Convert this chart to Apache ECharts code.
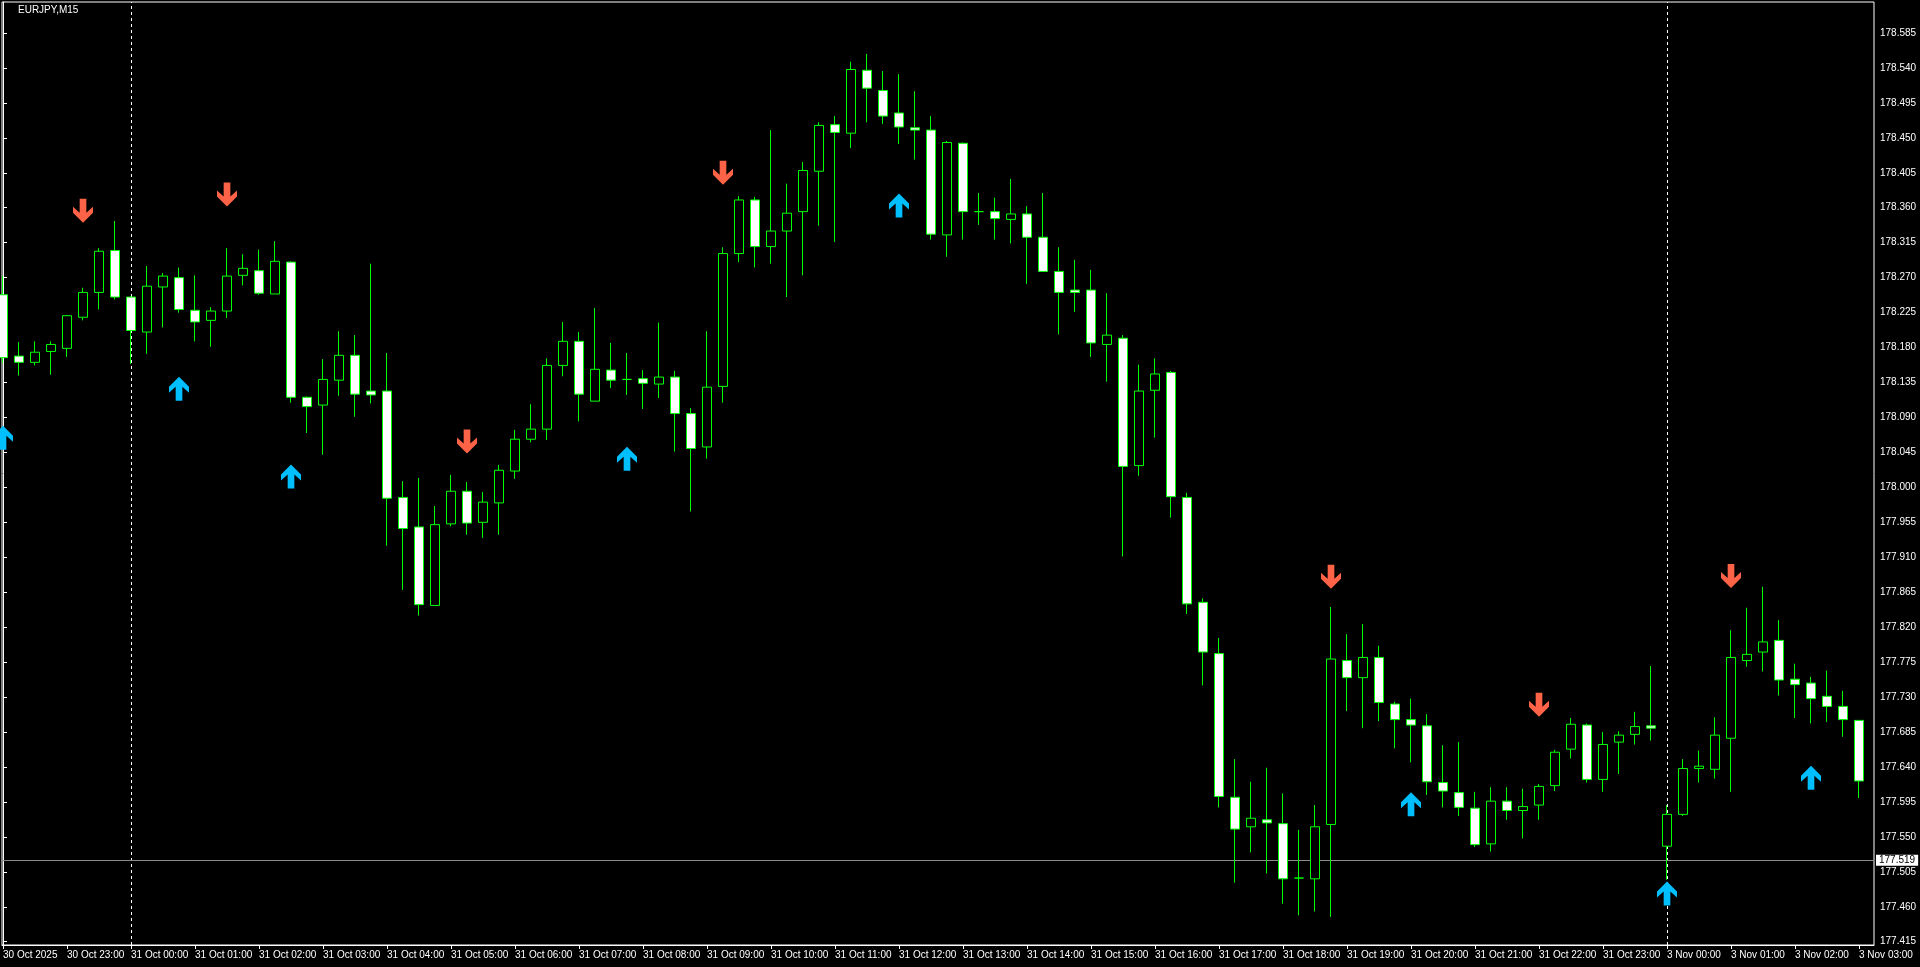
<!DOCTYPE html>
<html><head><meta charset="utf-8">
<script src="https://cdn.jsdelivr.net/npm/echarts@6/dist/echarts.min.js"></script>
<style>html,body{margin:0;padding:0;background:#000;overflow:hidden}#c{width:1920px;height:967px}</style>
</head><body><div id="c"></div>
<script>
const chartTitle = 'EURJPY,M15';
const xTickIndex = [0,4,8,12,16,20,24,28,32,36,40,44,48,52,56,60,64,68,72,76,80,84,88,92,96,100,104,108,112,116];
const xTickLabels = ['30 Oct 2025','30 Oct 23:00','31 Oct 00:00','31 Oct 01:00','31 Oct 02:00','31 Oct 03:00','31 Oct 04:00','31 Oct 05:00','31 Oct 06:00','31 Oct 07:00','31 Oct 08:00','31 Oct 09:00','31 Oct 10:00','31 Oct 11:00','31 Oct 12:00','31 Oct 13:00','31 Oct 14:00','31 Oct 15:00','31 Oct 16:00','31 Oct 17:00','31 Oct 18:00','31 Oct 19:00','31 Oct 20:00','31 Oct 21:00','31 Oct 22:00','31 Oct 23:00','3 Nov 00:00','3 Nov 01:00','3 Nov 02:00','3 Nov 03:00'];
const yTicks = [177.415,177.460,177.505,177.550,177.595,177.640,177.685,177.730,177.775,177.820,177.865,177.910,177.955,178.000,178.045,178.090,178.135,178.180,178.225,178.270,178.315,178.360,178.405,178.450,178.495,178.540,178.585];

const openP = [178.248,178.169,178.161,178.175,178.179,178.219,178.251,178.305,178.245,178.200,
178.258,178.270,178.228,178.215,178.227,178.273,178.279,178.249,178.290,178.116,
178.106,178.138,178.170,178.124,178.124,177.987,177.949,177.848,177.953,177.995,
177.955,177.980,178.021,178.062,178.075,178.157,178.188,178.111,178.151,178.139,
178.140,178.133,178.142,178.095,178.052,178.130,178.301,178.370,178.310,178.330,
178.355,178.407,178.467,178.456,178.537,178.511,178.482,178.463,178.460,178.325,
178.443,178.355,178.355,178.345,178.352,178.322,178.278,178.254,178.254,178.184,
178.192,178.028,178.125,178.148,177.987,177.852,177.786,177.601,177.563,177.572,
177.567,177.497,177.496,177.566,177.777,177.755,177.781,177.721,177.701,177.693,
177.620,177.607,177.587,177.541,177.596,177.584,177.591,177.616,177.663,177.694,
177.624,177.672,177.682,177.693,177.538,177.579,177.638,177.637,177.677,177.777,
177.788,177.803,177.753,177.748,177.731,177.718,177.700];
const closeP = [178.167,178.161,178.174,178.184,178.221,178.251,178.304,178.245,178.202,178.259,
178.272,178.229,178.213,178.227,178.272,178.282,178.250,178.291,178.116,178.104,
178.139,178.170,178.120,178.119,177.986,177.947,177.849,177.952,177.995,177.954,
177.981,178.022,178.062,178.075,178.157,178.188,178.120,178.152,178.138,178.139,
178.134,178.142,178.095,178.050,178.129,178.301,178.370,178.310,178.330,178.353,
178.408,178.466,178.457,178.538,178.514,178.478,178.464,178.460,178.326,178.444,
178.355,178.355,178.346,178.352,178.322,178.278,178.251,178.251,178.186,178.196,
178.027,178.124,178.146,177.988,177.850,177.788,177.602,177.560,177.574,177.568,
177.496,177.497,177.563,177.779,177.755,177.781,177.723,177.701,177.694,177.621,
177.609,177.588,177.540,177.596,177.584,177.589,177.615,177.659,177.695,177.624,
177.669,177.681,177.692,177.690,177.579,177.638,177.641,177.681,177.781,177.785,
177.801,177.752,177.746,177.728,177.718,177.701,177.622];
const lowP = [178.160,178.144,178.157,178.145,178.168,178.215,178.229,178.242,178.159,178.172,
178.206,178.225,178.188,178.181,178.218,178.260,178.248,178.249,178.109,178.070,
178.042,178.118,178.091,178.108,177.925,177.868,177.835,177.848,177.950,177.939,
177.935,177.939,178.011,178.058,178.061,178.143,178.085,178.111,178.128,178.119,
178.101,178.115,178.046,177.969,178.037,178.109,178.290,178.283,178.288,178.245,
178.273,178.337,178.316,178.437,178.470,178.468,178.442,178.422,178.319,178.297,
178.319,178.338,178.319,178.314,178.262,178.278,178.197,178.226,178.168,178.136,
177.911,178.015,178.064,177.961,177.837,177.745,177.588,177.491,177.530,177.503,
177.464,177.449,177.454,177.447,177.712,177.690,177.699,177.664,177.646,177.604,
177.588,177.577,177.537,177.531,177.572,177.548,177.572,177.609,177.651,177.620,
177.608,177.631,177.669,177.674,177.495,177.577,177.620,177.625,177.608,177.769,
177.763,177.732,177.703,177.696,177.698,177.679,177.600];
const highP = [178.272,178.187,178.188,178.188,178.222,178.257,178.308,178.343,178.246,178.285,
178.276,178.283,178.273,178.232,178.308,178.300,178.306,178.317,178.291,178.117,
178.165,178.201,178.196,178.288,178.173,178.008,178.012,177.976,178.016,178.007,
177.994,178.029,178.074,178.107,178.166,178.213,178.200,178.231,178.186,178.173,
178.151,178.212,178.150,178.102,178.201,178.309,178.375,178.374,178.460,178.391,
178.419,178.470,178.478,178.548,178.558,178.536,178.532,178.510,178.478,178.446,
178.444,178.379,178.373,178.397,178.362,178.379,178.309,178.293,178.280,178.250,
178.196,178.158,178.166,178.150,177.993,177.857,177.806,177.650,177.621,177.639,
177.606,177.559,177.591,177.846,177.811,177.824,177.796,177.724,177.728,177.708,
177.668,177.672,177.608,177.614,177.614,177.612,177.618,177.662,177.703,177.696,
177.685,177.686,177.711,177.770,177.591,177.650,177.661,177.704,177.816,177.845,
177.872,177.829,177.773,177.756,177.764,177.738,177.700];

const downArrows = [[5,178.356],[14,178.377],[29,178.059],[45,178.405],[83,177.885],[96,177.720],[108,177.886]];
const upArrows = [[0,178.064],[11,178.127],[18,178.014],[39,178.037],[56,178.363],[88,177.592],[104,177.477],[113,177.626]];
const priceLine = 177.519;
const separators = [8, 104];

const candles = openP.map((o, i) => [i, o, closeP[i], lowP[i], highP[i]]);

const chart = echarts.init(document.getElementById('c'), null, {renderer: 'canvas'});
const font = "'Liberation Sans', Arial, sans-serif";
chart.setOption({
  backgroundColor: '#000',
  animation: false,
  graphic: [{type: 'text', left: 18, top: 5, style: {text: chartTitle, fill: '#fff', font: '10px ' + font}}],
  grid: {left: 2, right: 46, top: 2, bottom: 22, show: true, backgroundColor: '#000', borderColor: '#fff', borderWidth: 1},
  xAxis: {
    type: 'value', min: -0.0625, max: 116.9375,
    axisLine: {show: true, lineStyle: {color: '#fff'}},
    axisTick: {show: true, length: 4, lineStyle: {color: '#fff'}, customValues: xTickIndex},
    axisLabel: {show: true, color: '#fff', fontSize: 10, fontFamily: font, align: 'left', margin: 5,
      customValues: xTickIndex,
      formatter: v => xTickLabels[xTickIndex.indexOf(Math.round(v))] || ''},
    splitLine: {show: false}
  },
  yAxis: {
    type: 'value', position: 'right', min: 177.4108, max: 178.6249, scale: true,
    axisLine: {show: true, lineStyle: {color: '#fff'}},
    axisTick: {show: true, length: 4, lineStyle: {color: '#fff'}, customValues: yTicks},
    axisLabel: {show: true, color: '#fff', fontSize: 10, fontFamily: font, margin: 6,
      customValues: yTicks, formatter: v => v.toFixed(3)},
    splitLine: {show: false}
  },
  series: [
    {
      type: 'line', data: [], z: 1, silent: true,
      markLine: {
        z: 1, silent: true, symbol: 'none', animation: false,
        data: [
          {xAxis: separators[0], lineStyle: {color: '#fff', type: [3, 3], width: 1}, label: {show: false}},
          {xAxis: separators[1], lineStyle: {color: '#fff', type: [3, 3], width: 1}, label: {show: false}},
          {yAxis: priceLine, lineStyle: {color: '#8c8c8c', type: 'solid', width: 1},
            label: {show: true, position: 'end', distance: 2, formatter: priceLine.toFixed(3),
              color: '#000', backgroundColor: '#fff', padding: [1, 3, 0, 3], fontSize: 10, fontFamily: font}}
        ]
      }
    },
    {
      type: 'candlestick', z: 2, barWidth: 10,
      encode: {x: 0, y: [1, 2, 3, 4]},
      data: candles,
      itemStyle: {color: '#000', color0: '#fff', borderColor: '#00ff00', borderColor0: '#00ff00', borderColorDoji: '#00ff00', borderWidth: 1}
    },
    {
      type: 'scatter', z: 3, data: downArrows,
      symbol: 'path://M7,0L13,0L13,14L19,8L19,14L10,24L1,14L1,8L7,14Z', symbolSize: [20, 24],
      itemStyle: {color: '#ff6347', opacity: 1}
    },
    {
      type: 'scatter', z: 3, data: upArrows,
      symbol: 'path://M7,24L13,24L13,10L19,16L19,10L10,0L1,10L1,16L7,10Z', symbolSize: [20, 24],
      itemStyle: {color: '#00bfff', opacity: 1}
    }
  ]
});
</script></body></html>
